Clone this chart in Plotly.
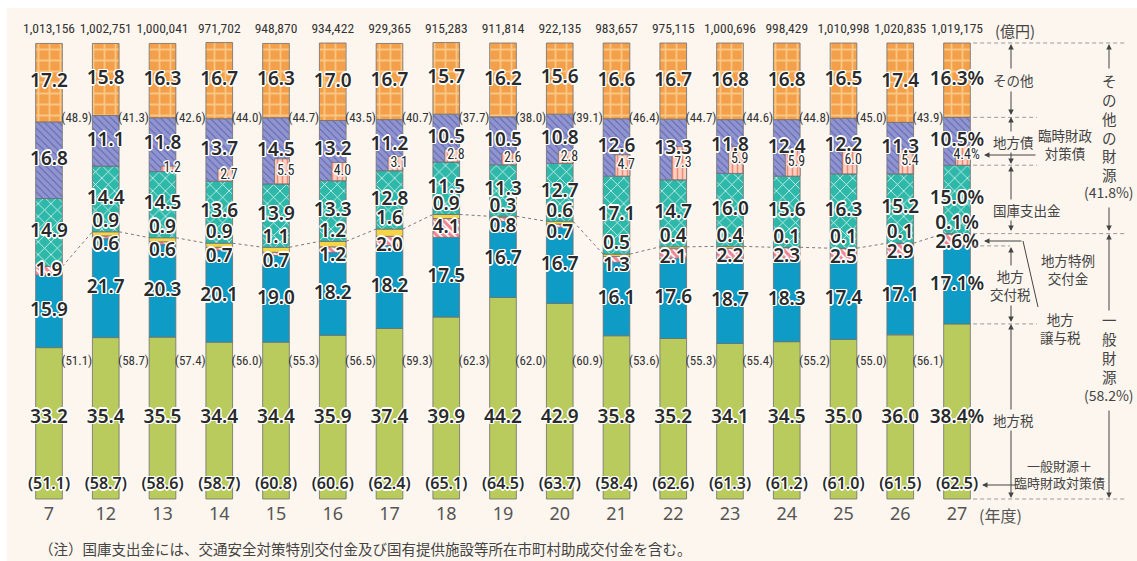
import plotly.graph_objects as go

# ---------------- data (percent of total revenue) ----------------
years = ["7", "12", "13", "14", "15", "16", "17", "18", "19", "20", "21", "22", "23", "24", "25", "26", "27"]
totals = ["1,013,156", "1,002,751", "1,000,041", "971,702", "948,870", "934,422", "929,365", "915,283",
          "911,814", "922,135", "983,657", "975,115", "1,000,696", "998,429", "1,010,998", "1,020,835", "1,019,175"]
local_tax = [33.2, 35.4, 35.5, 34.4, 34.4, 35.9, 37.4, 39.9, 44.2, 42.9, 35.8, 35.2, 34.1, 34.5, 35.0, 36.0, 38.4]
alloc_tax = [15.9, 21.7, 20.3, 20.1, 19.0, 18.2, 18.2, 17.5, 16.7, 16.7, 16.1, 17.6, 18.7, 18.3, 17.4, 17.1, 17.1]
transfer_tax = [1.9, 0.6, 0.6, 0.7, 0.7, 1.2, 2.0, 4.1, 0.8, 0.7, 1.3, 2.1, 2.2, 2.3, 2.5, 2.9, 2.6]
special_grant = [0, 0.9, 0.9, 0.9, 1.1, 1.2, 1.6, 0.9, 0.3, 0.6, 0.5, 0.4, 0.4, 0.1, 0.1, 0.1, 0.1]
treasury = [14.9, 14.4, 14.5, 13.6, 13.9, 13.3, 12.8, 11.5, 11.3, 12.7, 17.1, 14.7, 16.0, 15.6, 16.3, 15.2, 15.0]
local_bonds = [16.8, 11.1, 11.8, 13.7, 14.5, 13.2, 11.2, 10.5, 10.5, 10.8, 12.6, 13.3, 11.8, 12.4, 12.2, 11.3, 10.5]
temp_bonds = [0, 0, 1.2, 2.7, 5.5, 4.0, 3.1, 2.8, 2.6, 2.8, 4.7, 7.3, 5.9, 5.9, 6.0, 5.4, 4.4]
others = [17.2, 15.8, 16.3, 16.7, 16.3, 17.0, 16.7, 15.7, 16.2, 15.6, 16.6, 16.7, 16.8, 16.8, 16.5, 17.4, 16.3]
general = [51.1, 58.7, 57.4, 56.0, 55.3, 56.5, 59.3, 62.3, 62.0, 60.9, 53.6, 55.3, 55.4, 55.2, 55.0, 56.1, 58.2]
other_src = [48.9, 41.3, 42.6, 44.0, 44.7, 43.5, 40.7, 37.7, 38.0, 39.1, 46.4, 44.7, 44.6, 44.8, 45.0, 43.9, 41.8]
general_plus_temp = [51.1, 58.7, 58.6, 58.7, 60.8, 60.6, 62.4, 65.1, 64.5, 63.7, 58.4, 62.6, 61.3, 61.2, 61.0, 61.5, 62.5]

footnote = "（注）国庫支出金には、交通安全対策特別交付金及び国有提供施設等所在市町村助成交付金を含む。"

# ---------------- layout constants ----------------
W, H = 1137, 561
PX0, DXP = 49.0, 56.75      # pixel of first bar centre, pixels per category
PY0, DYP = 499.0, 4.56      # pixel of 0 %, pixels per percent
BW = 0.47                   # bar width (category units)
NW = 0.26                   # width of the 臨時財政対策債 inset

def dx(px):
    return (px - PX0) / DXP

def dy(py):
    return (PY0 - py) / DYP

n = len(years)
xs = list(range(n))
last = n - 1

def cum(*arrs):
    return [round(sum(a[i] for a in arrs), 4) for i in range(n)]

top_green = cum(local_tax)
top_blue = cum(local_tax, alloc_tax)
top_pink = cum(local_tax, alloc_tax, transfer_tax)
top_gen = cum(local_tax, alloc_tax, transfer_tax, special_grant)
top_teal = cum(local_tax, alloc_tax, transfer_tax, special_grant, treasury)
top_debt = cum(local_tax, alloc_tax, transfer_tax, special_grant, treasury, local_bonds)
top_other = cum(local_tax, alloc_tax, transfer_tax, special_grant, treasury, local_bonds, others)

BIG = "Noto Sans, Open Sans, sans-serif"
NARROW = "Liberation Sans Narrow, Roboto Condensed, Roboto, sans-serif"
JP = "Noto Sans CJK JP, Noto Sans, sans-serif"
HALO = ("1.5px 0 0 #fff, -1.5px 0 0 #fff, 0 1.5px 0 #fff, 0 -1.5px 0 #fff, "
        "1px 1px 0 #fff, -1px -1px 0 #fff, 1px -1px 0 #fff, -1px 1px 0 #fff")
OUTLINE = dict(color="#6e6e6e", width=0.8)

fig = go.Figure()

def add_bar(vals, base, color, pattern=None, width=BW, offset=None):
    marker = dict(color=color, line=OUTLINE)
    if pattern is not None:
        marker["pattern"] = pattern
    fig.add_trace(go.Bar(x=xs, y=[v if v else None for v in vals], base=base, width=width,
                         offset=offset, marker=marker, hoverinfo="skip", showlegend=False))

add_bar(local_tax, [0] * n, "#B9CB5C")
add_bar(alloc_tax, top_green, "#0E9CC7")
add_bar(transfer_tax, top_blue, "#F2909E",
        dict(shape="\\", fgcolor="#FFFFFF", bgcolor="#F08595", size=5, solidity=0.35, fillmode="replace"))
add_bar(special_grant, top_pink, "#F5D547")
add_bar(treasury, top_gen, "#2DB8A9",
        dict(shape="x", fgcolor="#E9F8F5", bgcolor="#2DB8A9", size=9, solidity=0.16, fillmode="replace"))
add_bar(local_bonds, top_teal, "#8E93CF",
        dict(shape="\\", fgcolor="#666BB4", bgcolor="#9095D0", size=5, solidity=0.22, fillmode="replace"))
add_bar(others, top_debt, "#F5A24B",
        dict(shape="+", fgcolor="#F9C683", bgcolor="#F4A04A", size=11, solidity=0.3, fillmode="replace"))
add_bar(temp_bonds, top_teal, "#FAC7B5",
        dict(shape="|", fgcolor="#EE8A79", bgcolor="#FBD0C0", size=5, solidity=0.3, fillmode="replace"),
        width=NW, offset=BW / 2 - NW)

# connector line at the top of 一般財源
cx, cy = [], []
for i in range(n - 1):
    cx += [i + BW / 2, i + 1 - BW / 2, None]
    cy += [top_gen[i], top_gen[i + 1], None]
fig.add_trace(go.Scatter(x=cx, y=cy, mode="lines", line=dict(color="#7a7a7a", width=1, dash="3px,3px"),
                         hoverinfo="skip", showlegend=False))

def add_text(x, y, t, size=19, color="#2a2a2a", pos="middle center", family=BIG, shadow=HALO, weight=600):
    fig.add_trace(go.Scatter(x=x, y=y, text=t, mode="text", textposition=pos,
                             textfont=dict(size=size, color=color, family=family, shadow=shadow, weight=weight),
                             hoverinfo="skip", showlegend=False))

def lab(v, i):
    return f"{v:.1f}" + ("%" if i == last else "")

def mids(lo, hi):
    return [(lo[i] + hi[i]) / 2 for i in range(n)]

# big segment labels
add_text(xs, mids(top_debt, top_other), [lab(v, i) for i, v in enumerate(others)])
add_text(xs, mids(top_teal, top_debt), [lab(v, i) for i, v in enumerate(local_bonds)])
add_text(xs, mids(top_gen, top_teal), [lab(v, i) for i, v in enumerate(treasury)])
add_text(xs, mids(top_green, top_blue), [lab(v, i) for i, v in enumerate(alloc_tax)])
add_text(xs, [dy(418)] * n, [lab(v, i) for i, v in enumerate(local_tax)])

sg_idx = [i for i in xs if special_grant[i]]
add_text(sg_idx, [top_gen[i] for i in sg_idx], [lab(special_grant[i], i) for i in sg_idx], pos="top center")
add_text(xs, [top_pink[i] if special_grant[i] else (top_blue[i] + top_pink[i]) / 2 for i in xs],
         [lab(v, i) for i, v in enumerate(transfer_tax)],
         pos=["bottom center" if special_grant[i] else "middle center" for i in xs])

tb_idx = [i for i in xs if temp_bonds[i]]
add_text([i + 0.17 for i in tb_idx], [top_teal[i] + temp_bonds[i] / 2 for i in tb_idx],
         [lab(temp_bonds[i], i) for i in tb_idx], size=14, family=NARROW, weight=400)

# parenthesised figures
add_text(xs, [dy(485)] * n, [f"({v:.1f})" for v in general_plus_temp], size=16)
add_text([i + 0.49 for i in xs[:-1]], [dy(362)] * (n - 1), [f"({v:.1f})" for v in general[:-1]],
         size=13, color="#333", family=NARROW, shadow="none", weight=400)
add_text([i + 0.49 for i in xs[:-1]], [dy(118.5)] * (n - 1), [f"({v:.1f})" for v in other_src[:-1]],
         size=13, color="#333", family=NARROW, shadow="none", weight=400)

# totals and years
add_text(xs, [dy(30)] * n, totals, size=13.5, color="#333", family=NARROW, shadow="none", weight=400)
add_text(xs, [dy(515)] * n, years, size=18, color="#555", shadow="none", weight=400)

# ---------------- right-hand annotations ----------------
ann = []
shapes = []

def note(px, py, text, size=13.5, xanchor="left", color="#444", family=JP):
    ann.append(dict(x=dx(px), y=dy(py), xref="x", yref="y", text=text, showarrow=False,
                    xanchor=xanchor, yanchor="middle", align="center",
                    font=dict(size=size, color=color, family=family)))

def arrow(px_tail, py_tail, px_tip, py_tip):
    ann.append(dict(x=dx(px_tip), y=dy(py_tip), ax=dx(px_tail), ay=dy(py_tail), xref="x", yref="y",
                    axref="x", ayref="y", text="", showarrow=True, arrowhead=2, arrowsize=1.1,
                    arrowwidth=1, arrowcolor="#444", standoff=0, startstandoff=0))

def seg(px0, py0, px1, py1, color="#444"):
    shapes.append(dict(type="line", xref="x", yref="y", x0=dx(px0), y0=dy(py0), x1=dx(px1), y1=dy(py1),
                       line=dict(color=color, width=1)))

def hdash(level, px_end):
    shapes.append(dict(type="line", xref="x", yref="y", x0=last + BW / 2 + 0.05, x1=dx(px_end),
                       y0=level, y1=level, line=dict(color="#9a9a9a", width=1, dash="4px,3px")))

hdash(top_other[last], 1125)
hdash(top_debt[last], 1037)
hdash(top_teal[last], 1037)
hdash(top_gen[last], 1125)
hdash(top_blue[last], 1010)
hdash(top_green[last], 1037)
hdash(0, 1125)

note(1015, 30, "(億円)", size=15, xanchor="center")
note(1000, 515, "(年度)", size=16, xanchor="center", color="#555")
note(991, 80, "その他")
note(991, 142, "地方債")
note(1065, 144, "臨時財政<br>対策債", xanchor="center")
note(991, 210, "国庫支出金")
note(1068, 269, "地方特例<br>交付金", xanchor="center")
note(1010, 285, "地方<br>交付税", xanchor="center")
note(1038, 328, "地方<br>譲与税")
note(991, 420, "地方税")
note(1059, 474, "一般財源＋<br>臨時財政対策債", size=13, xanchor="center")
note(1109, 127, "そ<br>の<br>他<br>の<br>財<br>源", size=14.5, xanchor="center")
note(1109, 192, "(41.8%)", size=14, xanchor="center")
note(1109, 348, "一<br>般<br>財<br>源", size=14.5, xanchor="center")
note(1109, 395, "(58.2%)", size=14, xanchor="center")

AX = 1011
arrow(AX, 70, AX, 44); arrow(AX, 90, AX, 115)
arrow(AX, 133, AX, 117); arrow(AX, 151, AX, 164)
arrow(AX, 201, AX, 166); arrow(AX, 219, AX, 231)
arrow(AX, 267, AX, 247); arrow(AX, 304, AX, 322)
arrow(AX, 411, AX, 324); arrow(AX, 429, AX, 498)

BX = 1109
arrow(BX, 70, BX, 44); arrow(BX, 206, BX, 231)
arrow(BX, 312, BX, 234); arrow(BX, 409, BX, 498)

arrow(1037, 155, 984, 155)
arrow(1023, 241, 984, 241)
seg(1023, 241, 1038, 307)
arrow(1018, 485, 982, 485)

# footnote
note(37, 548, footnote, size=14.5, color="#444")

# background panel
shapes.insert(0, dict(type="rect", xref="paper", yref="paper", x0=7 / W, x1=1, y0=0, y1=1 - 8 / H,
                      fillcolor="#FCF6EE", line=dict(width=0), layer="below"))

fig.update_layout(
    width=W, height=H, margin=dict(l=0, r=0, t=0, b=0),
    paper_bgcolor="#FFFFFF", plot_bgcolor="rgba(0,0,0,0)",
    barmode="overlay", showlegend=False,
    xaxis=dict(range=[dx(0), dx(W)], visible=False, fixedrange=True),
    yaxis=dict(range=[dy(H), dy(0)], visible=False, fixedrange=True),
    annotations=ann, shapes=shapes,
)

fig.write_html("out.html", config={"displayModeBar": False},
               post_script="document.body.style.margin='0';document.body.style.overflow='hidden';")
